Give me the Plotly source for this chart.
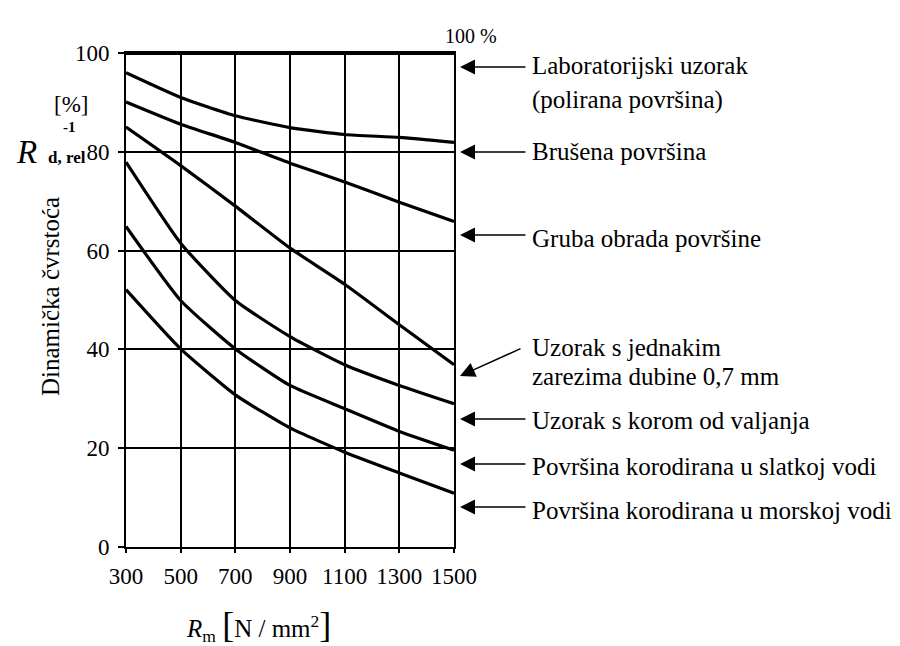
import plotly.graph_objects as go

# ---- data ----
rm = [300, 500, 700, 900, 1100, 1300, 1500]
x_ticks = [300, 500, 700, 900, 1100, 1300, 1500]
y_ticks = [0, 20, 40, 60, 80, 100]

laboratorijski = [100, 100, 100, 100, 100, 100, 100]
brusena = [96.0, 91.0, 87.3, 84.9, 83.5, 82.9, 81.9]
gruba = [90.1, 85.6, 81.9, 77.7, 73.9, 69.8, 65.9]
zarezi = [85.0, 77.2, 69.0, 60.5, 53.2, 45.0, 36.9]
korom = [77.9, 61.5, 49.9, 42.6, 36.9, 32.7, 29.0]
slatka = [64.9, 49.9, 40.1, 32.7, 28.0, 23.4, 19.6]
morska = [52.1, 40.1, 30.8, 24.1, 19.2, 15.0, 10.9]

series = [laboratorijski, brusena, gruba, zarezi, korom, slatka, morska]

FONT = "Times New Roman, Liberation Serif, serif"
OFF = 8  # page body margin
W, H = 900 - OFF, 646 - OFF
# plot area in screen pixels: x 126..454, y 53..547
L, T = 126 - OFF, 53 - OFF
R = W - (454 - OFF)
B = H - (547 - OFF)
PW, PH = W - L - R, H - T - B


def px(xs):
    return (xs - OFF - L) / PW


def py(ys):
    return (H - B - (ys - OFF)) / PH


fig = go.Figure()
for i, s in enumerate(series):
    fig.add_trace(go.Scatter(
        x=rm, y=s, mode="lines",
        line=dict(color="black", width=4 if i == 0 else 3.2, shape="spline", smoothing=0.5),
        hoverinfo="skip", showlegend=False,
    ))

annotations = []

labels = [
    (67, 527, 67, [("Laboratorijski uzorak", 66), ("(polirana površina)", 100)]),
    (152, 527, 152, [("Brušena površina", 152)]),
    (235, 527, 235, [("Gruba obrada površine", 238)]),
    (376, 522, 348, [("Uzorak s jednakim", 347), ("zarezima dubine 0,7 mm", 376)]),
    (419, 527, 419, [("Uzorak s korom od valjanja", 421)]),
    (464, 527, 464, [("Površina korodirana u slatkoj vodi", 466)]),
    (507, 527, 507, [("Površina korodirana u morskoj vodi", 510)]),
]
head_x = 460
for hy, tx, ty, texts in labels:
    annotations.append(dict(
        x=px(head_x), y=py(hy), xref="paper", yref="paper",
        ax=tx - head_x, ay=ty - hy, axref="pixel", ayref="pixel",
        text=" ", showarrow=True, arrowhead=2, arrowsize=2.0, arrowwidth=1.5,
        arrowcolor="black", standoff=0, font=dict(size=1),
    ))
    for t, yy in texts:
        annotations.append(dict(
            x=px(530), y=py(yy), xref="paper", yref="paper",
            text=t, showarrow=False, xanchor="left", yanchor="middle",
            font=dict(family=FONT, size=25, color="black"),
        ))

annotations.append(dict(x=px(471), y=py(36), xref="paper", yref="paper",
                        text="100 %", showarrow=False, xanchor="center", yanchor="middle",
                        font=dict(family=FONT, size=20, color="black")))

annotations.append(dict(x=px(50), y=py(297), xref="paper", yref="paper",
                        text="Dinamička čvrstoća", textangle=-90, showarrow=False,
                        xanchor="center", yanchor="middle",
                        font=dict(family=FONT, size=25, color="black")))

annotations += [
    dict(x=px(26), y=py(152), xref="paper", yref="paper", text="<i>R</i>", showarrow=False,
         xanchor="center", yanchor="middle", font=dict(family=FONT, size=33, color="black")),
    dict(x=px(70), y=py(127), xref="paper", yref="paper", text="<b>-1</b>", showarrow=False,
         xanchor="center", yanchor="middle", font=dict(family=FONT, size=15, color="black")),
    dict(x=px(67), y=py(158), xref="paper", yref="paper", text="<b>d, rel</b>", showarrow=False,
         xanchor="center", yanchor="middle", font=dict(family=FONT, size=17, color="black")),
    dict(x=px(71), y=py(104), xref="paper", yref="paper", text="[%]", showarrow=False,
         xanchor="center", yanchor="middle", font=dict(family=FONT, size=23, color="black")),
]

annotations.append(dict(
    x=px(258), y=py(625), xref="paper", yref="paper",
    text="<i>R</i><sub>m</sub> <span style='font-size:36px'>[</span>N / mm<sup>2</sup><span style='font-size:36px'>]</span>",
    showarrow=False, xanchor="center", yanchor="middle",
    font=dict(family=FONT, size=25, color="black")))

fig.update_layout(
    width=W, height=H,
    margin=dict(l=L, r=R, t=T, b=B),
    plot_bgcolor="white", paper_bgcolor="white",
    showlegend=False,
    annotations=annotations,
    xaxis=dict(range=[300, 1500], tickvals=x_ticks, ticktext=[str(v) for v in x_ticks],
               showgrid=True, gridcolor="black", gridwidth=2,
               showline=True, linecolor="black", linewidth=2, mirror=True,
               ticks="outside", ticklen=4, tickwidth=2, tickcolor="black",
               ticklabelstandoff=3, zeroline=False,
               tickfont=dict(family=FONT, size=23, color="black")),
    yaxis=dict(range=[0, 100], tickvals=y_ticks,
               showgrid=True, gridcolor="black", gridwidth=1.6,
               showline=True, linecolor="black", linewidth=2, mirror=True,
               ticks="outside", ticklen=6, tickwidth=2, tickcolor="black",
               ticklabelstandoff=4, zeroline=False,
               tickfont=dict(family=FONT, size=23, color="black")),
)

fig.write_html("out.html")
